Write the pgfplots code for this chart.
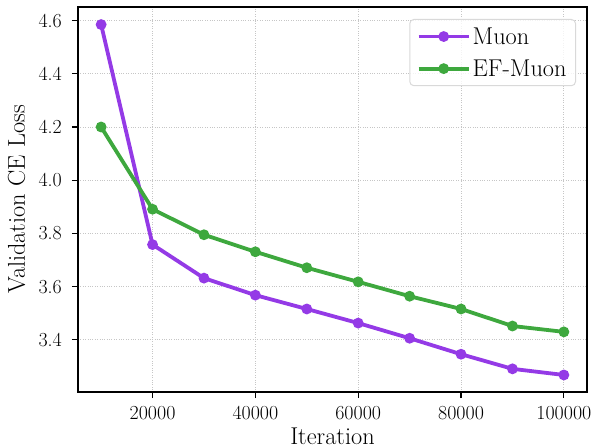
\documentclass[border=0pt]{standalone}
\usepackage{pgfplots}
\pgfplotsset{compat=1.18}
\definecolor{muon}{RGB}{148,58,230}
\definecolor{efmuon}{RGB}{62,168,62}
\begin{document}
\begin{tikzpicture}
\begin{axis}[
  scale only axis,
  width=509bp, height=385bp,
  xmin=5500, xmax=104500,
  ymin=3.204, ymax=4.651,
  xtick={20000,40000,60000,80000,100000},
  ytick={3.4,3.6,3.8,4.0,4.2,4.4,4.6},
  scaled x ticks=false,
  /pgf/number format/assume math mode=true,
  xticklabel style={/pgf/number format/set thousands separator={}, /pgf/number format/fixed, anchor=north},
  yticklabel style={/pgf/number format/fixed, /pgf/number format/fixed zerofill, /pgf/number format/precision=1, anchor=east},
  ticklabel style={font=\fontsize{20}{22}\selectfont, inner sep=0pt},
  xticklabel shift=8bp,
  yticklabel shift=10bp,
  xlabel={Iteration},
  ylabel={Validation CE Loss},
  xlabel style={font=\fontsize{24.4}{28}\selectfont, inner sep=0pt, at={(axis description cs:0.5,-0.1155)}, anchor=center},
  ylabel style={font=\fontsize{24.4}{28}\selectfont, inner sep=0pt, at={(axis description cs:-0.1208,0.5)}, anchor=center},
  tick pos=left,
  tick align=outside,
  major tick length=6bp,
  every tick/.style={black, line width=1.2bp},
  axis line style={line width=2.5bp},
  grid=major,
  major grid style={gray!45, dotted, line width=0.9bp},
  legend style={
    at={(1,1)}, xshift=-11bp, yshift=-12bp, anchor=north east,
    draw=gray!30, line width=1bp, rounded corners=4bp,
    fill=white, fill opacity=0.8, text opacity=1,
    font=\fontsize{24.4}{28}\selectfont,
    inner xsep=7bp, inner ysep=6bp, row sep=10bp,
    /tikz/every even column/.append style={column sep=6bp}
  },
  legend cell align=left,
  legend image code/.code={\draw[#1, mark repeat=2, mark phase=2] plot coordinates {(0bp,0bp) (25bp,0bp) (50bp,0bp)};},
]
\coordinate (ll) at (rel axis cs:0,0);
\coordinate (ur) at (rel axis cs:1,1);
\addplot[muon, line width=3.8bp, mark=*, mark size=3.4bp, mark options={solid}] coordinates {
 (10000,4.585) (20000,3.758) (30000,3.632) (40000,3.568) (50000,3.516)
 (60000,3.463) (70000,3.406) (80000,3.346) (90000,3.291) (100000,3.268)};
\addlegendentry{Muon}
\addplot[efmuon, line width=3.8bp, mark=*, mark size=3.4bp, mark options={solid}] coordinates {
 (10000,4.200) (20000,3.891) (30000,3.795) (40000,3.731) (50000,3.671)
 (60000,3.618) (70000,3.564) (80000,3.516) (90000,3.452) (100000,3.430)};
\addlegendentry{EF-Muon}
\end{axis}
\pgfresetboundingbox
\path ([shift={(-78bp,-56bp)}]ll) rectangle ([shift={(8bp,7bp)}]ur);
\end{tikzpicture}
\end{document}
